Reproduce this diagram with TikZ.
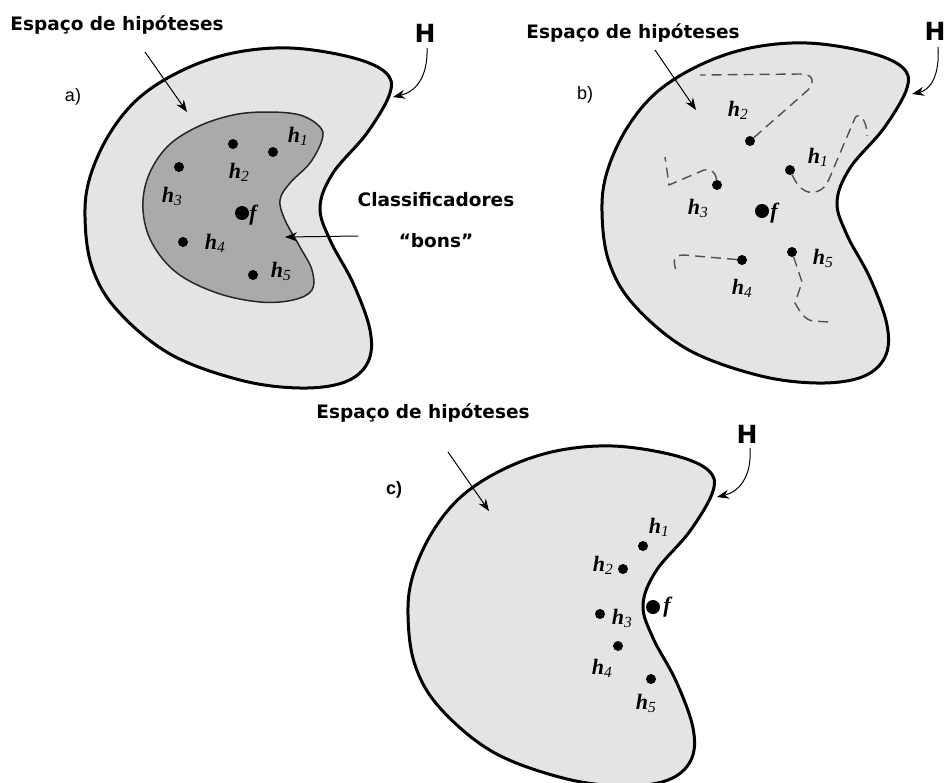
\documentclass[tikz,border=0pt]{standalone}
\usepackage{fontspec}
\setmainfont{Liberation Serif}
\newfontfamily\verdfont{DejaVu Sans}
\newfontfamily\arialfont{Liberation Sans}
\usepackage{tikz}
\usetikzlibrary{arrows.meta,positioning}
\definecolor{spacegray}{RGB}{228,228,228}
\definecolor{goodgray}{RGB}{170,170,170}
\definecolor{trailgray}{RGB}{80,80,80}

\newcommand{\hyp}[1]{\textbf{\textit{h}}\textsubscript{\textit{#1}}}
\newcommand{\kidney}{plot[smooth cycle, tension=0.6] coordinates {
  (290,48) (350,57) (385,72) (390,93) (367,133) (333,173) (320,207)
  (330,240) (353,283) (370,330) (368,362) (345,382) (300,388) (240,380)
  (170,354) (117,310) (92,267) (85,217) (90,177) (110,133) (140,97)
  (183,70) (233,53)}}
\newcommand{\goodset}{plot[smooth cycle, tension=0.6] coordinates {
  (233,115) (267,112) (300,115) (320,127) (322,140) (310,163) (290,183)
  (280,200) (285,220) (300,247) (312,270) (312,290) (293,300) (260,302)
  (217,293) (177,273) (152,243) (143,210) (148,177) (167,147) (197,127)}}

\begin{document}
\begin{tikzpicture}[
    x=1pt, y=-1pt,
    space/.style={draw=black, fill=spacegray, line width=3pt},
    good/.style={draw=black!85, fill=goodgray, line width=1.5pt},
    dot/.style={circle, fill=black, inner sep=0pt, minimum size=10pt},
    fdot/.style={dot, minimum size=14pt},
    hlabel/.style={font=\fontsize{22}{25}\selectfont, inner sep=0pt},
    title/.style={font=\verdfont\bfseries\fontsize{18.5}{22}\selectfont, inner sep=0pt},
    hname/.style={font=\verdfont\bfseries\fontsize{25}{29}\selectfont, inner sep=0pt},
    part/.style={font=\arialfont\fontsize{18}{21}\selectfont, inner sep=0pt},
    pointer/.style={line width=1pt, -{Stealth[length=12pt,width=9pt]}},
    trail/.style={draw=trailgray, line width=1.4pt, dash pattern=on 10pt off 6pt}
]
\useasboundingbox[fill=white] (0,0) rectangle (947,782);

% outlines
\draw[space] \kidney;
\draw[good] \goodset;
\begin{scope}[shift={(517,-5)}]
  \draw[space] \kidney;
\end{scope}
\begin{scope}[shift={(323,398)}]
  \draw[space] \kidney;
\end{scope}

% ---- a) ----
\node[title] (espA) at (117,25) {Espaço de hipóteses};
\node[part] (partA) at (73,97) {a)};
\node[hname] (hA) at (425,33) {H};
\node[title, align=center, font=\verdfont\bfseries\fontsize{18.5}{41}\selectfont] (bons) at (436,220) {Classificadores\\“bons”};
\coordinate (espA-tail) at (145,52);
\coordinate (espA-tip) at (187,112);
\coordinate (hA-tail) at (427,48);
\coordinate (hA-tip) at (393,97);
\coordinate (bons-tail) at (358,236);
\coordinate (bons-tip) at (285,237);
\draw[pointer] (espA-tail) -- (espA-tip);
\draw[pointer] (hA-tail) .. controls (428,78) and (415,92) .. (hA-tip);
\draw[pointer] (bons-tail) -- (bons-tip);

\node[dot] (a-h1) at (273,152) {};
\node[dot] (a-h2) at (233,144) {};
\node[dot] (a-h3) at (179,167) {};
\node[fdot] (a-f) at (242,213) {};
\node[dot] (a-h4) at (183,242) {};
\node[dot] (a-h5) at (253,275) {};
\node[hlabel] at (298,136) {\hyp{1}};
\node[hlabel] at (239,172) {\hyp{2}};
\node[hlabel] at (172,196) {\hyp{3}};
\node[hlabel] at (254,215) {\textbf{\textit{f}}};
\node[hlabel] at (215,243) {\hyp{4}};
\node[hlabel] at (281,271) {\hyp{5}};

% ---- b) ----
\node[title] (espB) at (633,33) {Espaço de hipóteses};
\node[part] (partB) at (585,95) {b)};
\node[hname] (hB) at (935,31) {H};
\coordinate (espB-tail) at (655,50);
\coordinate (espB-tip) at (696,110);
\coordinate (hB-tail) at (938,47);
\coordinate (hB-tip) at (912,94);
\draw[pointer] (espB-tail) -- (espB-tip);
\draw[pointer] (hB-tail) .. controls (940,76) and (930,90) .. (hB-tip);

\node[dot] (b-h1) at (790,170) {};
\node[dot] (b-h2) at (750,141) {};
\node[dot] (b-h3) at (717,185) {};
\node[fdot] (b-f) at (762,211) {};
\node[dot] (b-h4) at (742,260) {};
\node[dot] (b-h5) at (792,252) {};
\node[hlabel] at (738,110) {\hyp{2}};
\node[hlabel] at (818,157) {\hyp{1}};
\node[hlabel] at (698,208) {\hyp{3}};
\node[hlabel] at (775,213) {\textbf{\textit{f}}};
\node[hlabel] at (742,288) {\hyp{4}};
\node[hlabel] at (823,258) {\hyp{5}};

\draw[trail] (b-h2) -- (808,90) .. controls (816,80) and (812,74) .. (800,74) -- (700,75);
\draw[trail] (b-h1) .. controls (798,188) and (806,194) .. (815,192)
  .. controls (825,190) and (828,182) .. (832,172) -- (855,118)
  .. controls (858,112) and (867,118) .. (867,136);
\draw[trail] (b-h3) .. controls (716,173) and (712,169) .. (704,170) -- (669,185) -- (665,157);
\draw[trail] (b-h4) -- (684,255) .. controls (672,255) and (673,262) .. (677,273);
\draw[trail] (b-h5) -- (802,282) -- (795,303) .. controls (800,312) and (805,320) .. (813,321) -- (829,322);

% ---- c) ----
\node[title] (espC) at (423,413) {Espaço de hipóteses};
\node[part, font=\arialfont\bfseries\fontsize{18}{21}\selectfont] (partC) at (394,490) {c)};
\node[hname] (hC) at (747,434) {H};
\coordinate (espC-tail) at (448,452);
\coordinate (espC-tip) at (489,511);
\coordinate (hC-tail) at (750,448);
\coordinate (hC-tip) at (717,497);
\draw[pointer] (espC-tail) -- (espC-tip);
\draw[pointer] (hC-tail) .. controls (752,478) and (738,492) .. (hC-tip);

\node[dot] (c-h1) at (643,546) {};
\node[dot] (c-h2) at (623,569) {};
\node[fdot] (c-f) at (653,607) {};
\node[dot] (c-h3) at (600,614) {};
\node[dot] (c-h4) at (618,646) {};
\node[dot] (c-h5) at (651,679) {};
\node[hlabel] at (659,527) {\hyp{1}};
\node[hlabel] at (603,565) {\hyp{2}};
\node[hlabel] at (668,607) {\textbf{\textit{f}}};
\node[hlabel] at (622,618) {\hyp{3}};
\node[hlabel] at (602,668) {\hyp{4}};
\node[hlabel] at (646,703) {\hyp{5}};
\end{tikzpicture}
\end{document}
